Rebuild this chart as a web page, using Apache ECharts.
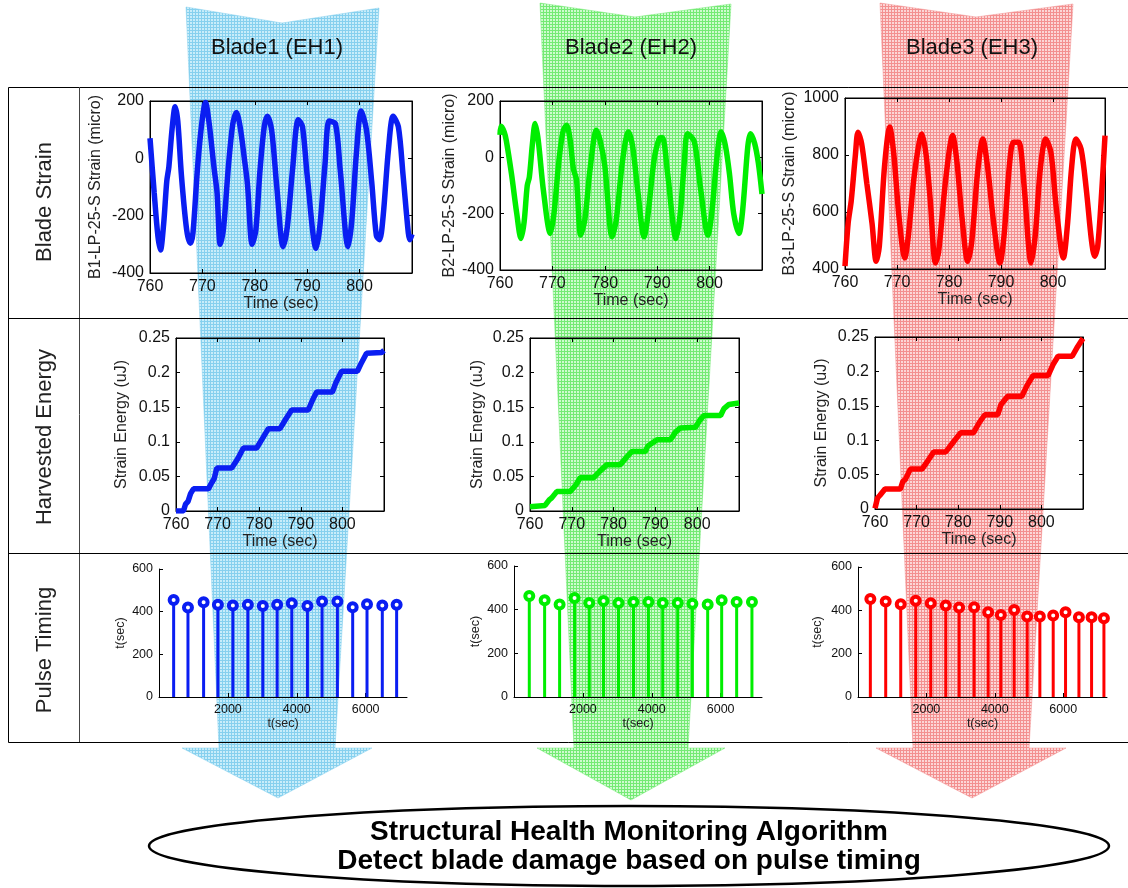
<!DOCTYPE html>
<html>
<head>
<meta charset="utf-8">
<title>Blade SHM</title>
<script src="https://cdn.jsdelivr.net/npm/echarts@6/dist/echarts.min.js"></script>
<style>
	html, body { margin: 0; padding: 0; background: #fff; }
	#main { width: 1128px; height: 888px; }
</style>
</head>
<body>
<div id="main"></div>
<script>
var FONT = 'Liberation Sans, Arial, Helvetica, sans-serif';

// blade strain, [time sec, micro strain]
var strain1 = [[760,70],[760.8,-120],[761.5,-270],[762,-320],[762.6,-230],[763.2,-80],[763.6,-30],[764.2,100],[764.8,180],[765.3,130],[766,-60],[767,-250],[767.7,-296],[768.2,-260],[769,-50],[769.8,110],[770.6,195],[771.3,120],[772.2,-30],[772.8,-120],[773.4,-300],[774,-250],[775,-20],[775.8,120],[776.5,160],[777.2,110],[778,0],[778.6,-90],[779.5,-300],[780.2,-250],[781,-40],[781.8,110],[782.4,147],[783.2,100],[784.2,-100],[785.4,-308],[786.2,-240],[787.2,-40],[788.3,135],[789.1,110],[790,-60],[791.7,-314],[792.4,-240],[793.4,-20],[794.2,130],[795.4,120],[796.3,-40],[797.8,-308],[798.5,-220],[799.4,20],[800.3,165],[801.3,100],[802.3,-80],[803.2,-270],[803.8,-284],[804.5,-200],[805.5,30],[806.4,147],[807.4,110],[808.3,-60],[809.3,-260],[809.6,-284],[810,-265]];
var strain2 = [[760,80],[760.2,110],[760.8,90],[761.2,60],[762.2,-60],[763.2,-200],[764,-288],[764.6,-230],[765.2,-100],[765.6,-70],[766.2,50],[766.7,120],[767.3,60],[768.3,-120],[769.6,-270],[770.3,-200],[771.2,-20],[772,90],[772.7,114],[773.4,60],[774,-40],[774.6,-80],[775.4,-276],[776.2,-220],[777.2,-40],[778.4,96],[779.1,60],[780,-30],[781.4,-282],[782.2,-220],[783.4,-10],[784.5,90],[785.3,40],[786.3,-120],[787.5,-282],[788.2,-210],[789.4,-10],[790.4,67],[791,70],[792,-60],[793.6,-288],[794.4,-200],[795.2,-10],[795.8,84],[797.1,55],[798.2,-100],[799.7,-276],[800.4,-200],[801.4,0],[802.2,90],[803,43],[803.8,-60],[804.6,-200],[805.6,-270],[806.3,-190],[807.3,40],[807.8,84],[808.6,49],[809.3,-20],[810,-130]];
var strain3 = [[760,410],[760.6,560],[761.2,640],[762,800],[762.5,880],[763.2,840],[764.2,700],[765.2,560],[766,427],[766.6,480],[767.6,760],[768.6,898],[769.4,800],[770.4,580],[771.5,439],[772.2,520],[773.4,740],[774.8,874],[775.6,800],[776.4,640],[777.4,421],[778,460],[779.4,720],[780.7,868],[781.5,780],[782.5,580],[783.6,427],[784.4,500],[785.5,740],[786.5,856],[787.4,760],[788.6,560],[789.8,421],[790.6,520],[791.6,760],[792.4,845],[793.4,845],[794.4,700],[795.8,421],[796.6,520],[797.6,760],[798.6,856],[799.6,809],[800.6,620],[802,439],[802.8,560],[803.6,760],[804.4,856],[805.4,821],[806.4,680],[807.4,500],[808,445],[808.6,480],[809.4,680],[810,868]];

// harvested strain energy, [time sec, uJ]
var energy1 = [[760,0],[761.8,0],[762.3,0.01],[762.9,0.014],[763.5,0.025],[764.2,0.032],[767.8,0.032],[768.5,0.04],[769.2,0.047],[769.8,0.062],[773.4,0.062],[774.8,0.075],[776.2,0.091],[779.4,0.091],[780.8,0.105],[782.2,0.119],[785,0.119],[786.4,0.133],[787.8,0.146],[791.8,0.146],[792.8,0.16],[793.8,0.172],[797.6,0.172],[798.4,0.185],[799.8,0.202],[803.6,0.202],[804.4,0.212],[805.8,0.228],[809.4,0.229],[810,0.232]];
var energy2 = [[760,0.006],[763.6,0.008],[764.6,0.016],[765.2,0.019],[766.4,0.028],[769.6,0.028],[771,0.038],[772,0.048],[775.2,0.048],[776.8,0.058],[778.4,0.067],[781.6,0.067],[783,0.077],[784.4,0.086],[787.6,0.086],[788.2,0.094],[790.4,0.103],[793.6,0.103],[794.8,0.114],[796,0.12],[799.6,0.121],[800.6,0.131],[801.6,0.138],[805.6,0.138],[806.4,0.148],[807.6,0.154],[810,0.156]];
var energy3 = [[760,0.001],[760.6,0.016],[761.2,0.02],[762.4,0.029],[766.1,0.029],[766.7,0.04],[767.3,0.043],[768.5,0.058],[771.3,0.058],[772.7,0.07],[774.1,0.083],[777,0.083],[778.8,0.097],[780.6,0.111],[783.7,0.111],[785,0.125],[786.4,0.137],[789.5,0.137],[790.3,0.152],[791.9,0.164],[795.3,0.164],[796.6,0.18],[798,0.194],[801.6,0.194],[802.8,0.21],[804,0.222],[807.4,0.222],[808.7,0.236],[810,0.248]];

// pulse timing: time of pulse and interval to previous pulse (sec)
var pulseTime1 = [425,841,1295,1710,2145,2580,3014,3430,3855,4309,4734,5179,5623,6039,6483,6899];
var pulseGap1 = [455,419,444,432,429,432,427,432,440,427,448,448,421,435,429,432];
var pulseTime2 = [444,889,1324,1758,2184,2599,3034,3469,3903,4319,4754,5179,5623,6029,6464,6908];
var pulseGap2 = [463,443,424,453,431,440,431,435,435,431,431,427,424,443,435,435];
var pulseTime3 = [361,810,1249,1688,2127,2566,2956,3395,3805,4176,4566,4946,5317,5707,6068,6459,6829,7190];
var pulseGap3 = [452,441,428,444,433,422,413,414,391,379,402,371,371,376,391,368,368,363];

// axis ranges [min, max, step]
var timeRange = [760, 810, 10];
var strainRangeA = [-400, 200, 200];
var strainRangeB = [400, 1000, 200];
var energyRange = [0, 0.25, 0.05];
var pulseRange = [0, 600, 200];

var bladeNames = ['Blade1 (EH1)', 'Blade2 (EH2)', 'Blade3 (EH3)'];
var rowNames = ['Blade Strain', 'Harvested Energy', 'Pulse Timing'];
var colors = ['#0a1ef2', '#00ee00', '#ff0000'];

var grids = [], xAxes = [], yAxes = [], series = [];

function plainNum(v) {
	return String(+(+v).toFixed(4));
}

function axis(gi, r, pos, name, gap, size, labels, hideMin, hideMax) {
	return {
		gridIndex: gi, type: 'value', position: pos,
		min: r[0], max: r[1], interval: r[2],
		name: name, nameLocation: 'middle', nameGap: gap,
		nameTextStyle: {fontFamily: FONT, fontSize: size, color: '#222'},
		axisLine: {show: true, onZero: false, lineStyle: {color: '#000', width: 1}},
		axisTick: {show: true, inside: true, length: 4, lineStyle: {color: '#000'}},
		axisLabel: {show: labels, fontFamily: FONT, fontSize: size, color: '#111', margin: 6,
			showMinLabel: !hideMin, showMaxLabel: !hideMax, formatter: plainNum},
		splitLine: {show: false}
	};
}

function boxChart(box, yr, xName, yName, yGap, color, data, smooth) {
	var gi = grids.length;
	grids.push({left: box[0], top: box[1], width: box[2], height: box[3], show: true,
		borderColor: '#000', borderWidth: 1, backgroundColor: 'rgba(0,0,0,0)'});
	var xi = xAxes.length;
	xAxes.push(axis(gi, timeRange, 'bottom', xName, 22, 16, true, false, true));
	xAxes.push(axis(gi, timeRange, 'top', '', 0, 16, false));
	var yi = yAxes.length;
	yAxes.push(axis(gi, yr, 'left', yName, yGap, 16, true));
	yAxes.push(axis(gi, yr, 'right', '', 0, 16, false));
	series.push({type: 'line', xAxisIndex: xi, yAxisIndex: yi, data: data, symbol: 'none',
		smooth: smooth, lineStyle: {color: color, width: 5.5}, z: 5, silent: true});
}

function pulseChart(box, xMax, yGap, color, times, gaps) {
	var gi = grids.length;
	grids.push({left: box[0], top: box[1], width: box[2], height: box[3]});
	var xi = xAxes.length;
	xAxes.push(axis(gi, [0, xMax, 2000], 'bottom', 't(sec)', 20, 12.5, true, true, true));
	var yi = yAxes.length;
	yAxes.push(axis(gi, pulseRange, 'left', 't(sec)', yGap, 12.5, true));
	var pts = times.map(function (t, i) { return [t, gaps[i]]; });
	series.push({type: 'bar', xAxisIndex: xi, yAxisIndex: yi, data: pts, barWidth: 3,
		itemStyle: {color: color}, z: 4, silent: true});
	series.push({type: 'scatter', xAxisIndex: xi, yAxisIndex: yi, data: pts, symbol: 'circle',
		symbolSize: 8, itemStyle: {color: '#fff', borderColor: color, borderWidth: 4, opacity: 1},
		z: 6, silent: true});
}

// row 1 - strain
boxChart([150, 101, 262, 172], strainRangeA, 'Time (sec)', 'B1-LP-25-S Strain (micro)', 46, colors[0], strain1, 0.3);
boxChart([500, 101, 262, 169], strainRangeA, 'Time (sec)', 'B2-LP-25-S Strain (micro)', 42, colors[1], strain2, 0.3);
boxChart([845, 98, 260, 171], strainRangeB, 'Time (sec)', 'B3-LP-25-S Strain (micro)', 47, colors[2], strain3, 0.3);
// row 2 - energy
boxChart([176, 338, 208, 173], energyRange, 'Time (sec)', 'Strain Energy (uJ)', 46, colors[0], energy1, false);
boxChart([530, 338, 209, 173], energyRange, 'Time (sec)', 'Strain Energy (uJ)', 44, colors[1], energy2, false);
boxChart([875, 337, 208, 172], energyRange, 'Time (sec)', 'Strain Energy (uJ)', 45, colors[2], energy3, false);
// row 3 - pulse timing
pulseChart([159, 569, 248, 128], 7200, 32, colors[0], pulseTime1, pulseGap1);
pulseChart([514, 566, 248, 131], 7200, 32, colors[1], pulseTime2, pulseGap2);
pulseChart([858, 567, 249, 130], 7280, 34, colors[2], pulseTime3, pulseGap3);

//格子纹理
function hatch(bg, line) {
	var c = document.createElement('canvas');
	c.width = 3; c.height = 3;
	var ctx = c.getContext('2d');
	ctx.fillStyle = bg; ctx.fillRect(0, 0, 3, 3);
	ctx.fillStyle = line; ctx.fillRect(0, 0, 3, 1); ctx.fillRect(0, 0, 1, 3);
	return c;
}

var arrows = [
	{pts: [[186,7],[282,23],[379,8],[335,748],[372,748],[278,798],[182,748],[219,748]], bg: '#c8edfa', line: '#86d0ee'},
	{pts: [[540,3],[635,17],[731,4],[688,748],[725,748],[631,800],[537,748],[574,748]], bg: '#cefbce', line: '#74ea74'},
	{pts: [[880,3],[976,17],[1073,4],[1029,748],[1066,748],[972,798],[876,748],[913,748]], bg: '#fcd6d6', line: '#f39090'}
];

var graphics = [];
arrows.forEach(function (a) {
	graphics.push({type: 'polygon', z: -1, silent: true, shape: {points: a.pts},
		style: {fill: {image: hatch(a.bg, a.line), repeat: 'repeat'}, stroke: a.line, lineWidth: 0.5}});
});
// table
graphics.push({type: 'rect', z: 1, silent: true, shape: {x: 8.5, y: 87.5, width: 1125, height: 655},
	style: {fill: 'none', stroke: '#000', lineWidth: 1}});
graphics.push({type: 'line', z: 1, silent: true, shape: {x1: 79.5, y1: 87, x2: 79.5, y2: 742}, style: {stroke: '#444', lineWidth: 1}});
graphics.push({type: 'line', z: 1, silent: true, shape: {x1: 8, y1: 318.5, x2: 1128, y2: 318.5}, style: {stroke: '#000', lineWidth: 1}});
graphics.push({type: 'line', z: 1, silent: true, shape: {x1: 8, y1: 553.5, x2: 1128, y2: 553.5}, style: {stroke: '#000', lineWidth: 1}});

var titleX = [277, 631, 972];
bladeNames.forEach(function (n, i) {
	graphics.push({type: 'text', z: 20, x: titleX[i], y: 48, silent: true,
		style: {text: n, fontFamily: FONT, fontSize: 22, fill: '#111', align: 'center', verticalAlign: 'middle'}});
});
var rowY = [202, 437, 650];
rowNames.forEach(function (n, i) {
	graphics.push({type: 'text', z: 20, x: 45, y: rowY[i], rotation: Math.PI / 2, silent: true,
		style: {text: n, fontFamily: FONT, fontSize: 22, fill: '#222', align: 'center', verticalAlign: 'middle'}});
});
// bottom ellipse
graphics.push({type: 'ellipse', z: 2, silent: true, shape: {cx: 629, cy: 846, rx: 480, ry: 40},
	style: {fill: '#fff', stroke: '#000', lineWidth: 2.5}});
graphics.push({type: 'text', z: 20, x: 629, y: 832, silent: true,
	style: {text: 'Structural Health Monitoring Algorithm', fontFamily: FONT, fontWeight: 'bold', fontSize: 28, fill: '#000', align: 'center', verticalAlign: 'middle'}});
graphics.push({type: 'text', z: 20, x: 629, y: 861, silent: true,
	style: {text: 'Detect blade damage based on pulse timing', fontFamily: FONT, fontWeight: 'bold', fontSize: 28, fill: '#000', align: 'center', verticalAlign: 'middle'}});

var myChart = echarts.init(document.getElementById('main'));
var option = {
	backgroundColor: '#fff',
	animation: false,
	grid: grids,
	xAxis: xAxes,
	yAxis: yAxes,
	series: series,
	graphic: {elements: graphics}
};
myChart.setOption(option, true);
</script>
</body>
</html>
